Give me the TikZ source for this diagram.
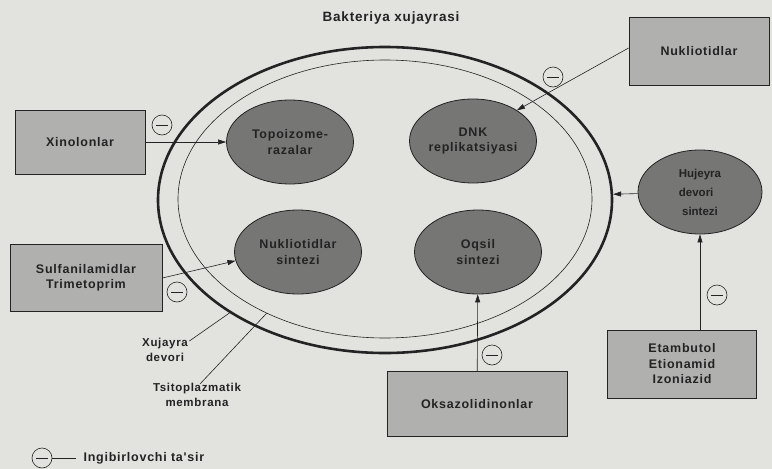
\documentclass[tikz,border=0pt]{standalone}
\usepackage{fontspec}
\setmainfont{Liberation Sans}
\newfontfamily\lblfont[LetterSpace=6]{Liberation Sans}
\definecolor{PaperGray}{RGB}{226, 226, 223}
\definecolor{BoxGray}{RGB}{176, 176, 174}
\definecolor{CellGray}{RGB}{118, 118, 116}
\definecolor{InkGray}{RGB}{35, 35, 35}
\newcommand{\lblsize}{\fontsize{12.5}{15.5}\selectfont}
\usetikzlibrary{arrows.meta, positioning, shapes, calc}

\begin{document}
\begin{tikzpicture}[x=1pt, y=-1pt,
    drug/.style={draw=InkGray, thick, fill=BoxGray, align=center, text=InkGray,
        font=\lblfont\bfseries\lblsize},
    target/.style={ellipse, draw=InkGray, thick, fill=CellGray, align=center, text=InkGray,
        minimum width=127, minimum height=84, inner sep=0pt, font=\lblfont\bfseries\lblsize},
    lbl/.style={align=center, text=InkGray, font=\lblfont\bfseries\fontsize{11.5}{14.5}\selectfont},
    inhib/.style={circle, draw=InkGray, semithick, minimum size=20, inner sep=0pt,
        path picture={\draw[InkGray, semithick]
            ([xshift=4pt]path picture bounding box.west) -- ([xshift=-4pt]path picture bounding box.east);}},
    arr/.style={InkGray, semithick, -{Triangle[length=8pt, width=5pt]}}]

    % Paper
    \useasboundingbox (0,0) rectangle (772,469);
    \fill[PaperGray] (0,0) rectangle (772,469);

    % Cell wall and membrane
    \node[ellipse, draw=InkGray, line width=2.6pt, minimum width=454, minimum height=306] (cell) at (385,200) {};
    \node[ellipse, draw=InkGray, semithick, minimum width=414, minimum height=278] (memb) at (385,199) {};
    \node[lbl, font=\lblfont\bfseries\fontsize{13.5}{16}\selectfont] (title) at (391,18) {Bakteriya xujayrasi};

    % Targets
    \node[target] (topo) at (290,142) {Topoizome-\\razalar};
    \node[target] (dnk) at (473,141) {DNK\\replikatsiyasi};
    \node[target] (nsin) at (298,252) {Nukliotidlar\\sintezi};
    \node[target] (oqs) at (478,252) {Oqsil\\sintezi};
    \node[target, minimum width=124, align=left, font=\bfseries\fontsize{11.5}{19}\selectfont] (huj) at (700,192) {Hujeyra\\devori\\\ sintezi};

    % Drugs
    \node[drug, minimum width=130, minimum height=64] (xin) at (80,142) {Xinolonlar};
    \node[drug, minimum width=140, minimum height=68] (nuk) at (699,51) {Nukliotidlar};
    \node[drug, minimum width=152, minimum height=67] (sulf) at (86,278) {Sulfanilamidlar\\Trimetoprim};
    \node[drug, minimum width=180, minimum height=65] (oks) at (477,404) {Oksazolidinonlar};
    \node[drug, minimum width=149, minimum height=68] (eta) at (682,364) {Etambutol\\Etionamid\\Izoniazid};

    % Inhibition arrows
    \draw[arr] (xin) -- (topo);
    \draw[arr] ($(nuk.west)+(0,-3)$) -- (dnk.35);
    \draw[arr] (huj) -- (cell);
    \draw[arr] (sulf.east) -- (nsin.188);
    \draw[arr] (oks) -- (oqs);
    \draw[arr] (eta.north -| huj.south) -- (huj.south);

    \foreach \n/\p in {m1/{162,125}, m2/{553,77}, m3/{177,292}, m4/{492,355}, m5/{717,295}}
        \node[inhib] (\n) at (\p) {};

    % Wall labels
    \node[lbl] (wall) at (165,350) {Xujayra\\devori};
    \node[lbl] (cyto) at (197,395) {Tsitoplazmatik\\membrana};
    \draw[InkGray, semithick] ($(wall.north east)+(-2,6)$) -- (cell.216);
    \draw[InkGray, semithick] ($(cyto.north)+(3,4)$) -- (memb.224);

    % Legend
    \node[inhib] (leg) at (42,458) {};
    \node[lbl, anchor=west, font=\lblfont\bfseries\fontsize{12.5}{15}\selectfont] (legtxt) at (80,458) {Ingibirlovchi ta'sir};
    \draw[InkGray, thick, shorten >=4pt] (leg) -- (legtxt);
\end{tikzpicture}
\end{document}
